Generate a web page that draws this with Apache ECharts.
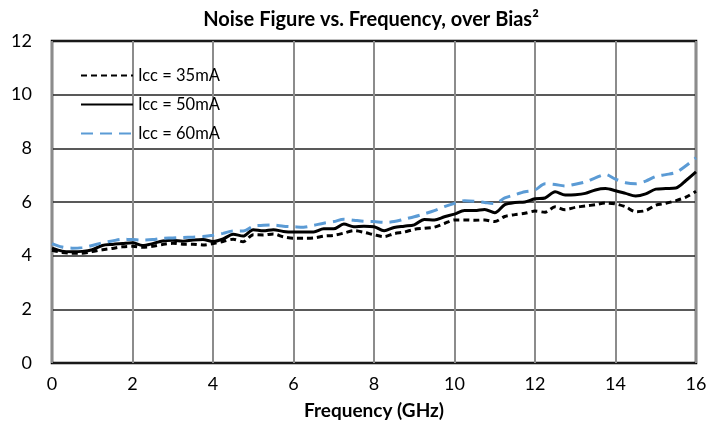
<!DOCTYPE html>
<html>
<head>
<meta charset="utf-8">
<script src="https://cdn.jsdelivr.net/npm/echarts@6/dist/echarts.min.js"></script>
<style>html,body{margin:0;padding:0;background:#fff}#c{width:725px;height:424px}</style>
</head>
<body>
<div id="c"></div>
<script>
const freq = [0,0.25,0.5,0.75,1,1.25,1.5,1.75,2,2.25,2.5,2.75,3,3.25,3.5,3.75,4,4.25,4.5,4.75,5,5.25,5.5,5.75,6,6.25,6.5,6.75,7,7.25,7.5,7.75,8,8.25,8.5,8.75,9,9.25,9.5,9.75,10,10.25,10.5,10.75,11,11.25,11.5,11.75,12,12.25,12.5,12.75,13,13.25,13.5,13.75,14,14.25,14.5,14.75,15,15.25,15.5,15.75,16];
const nf35 = [4.2,4.12,4.09,4.09,4.15,4.22,4.27,4.33,4.35,4.31,4.35,4.42,4.46,4.43,4.43,4.4,4.45,4.53,4.61,4.52,4.78,4.77,4.81,4.7,4.65,4.65,4.66,4.73,4.76,4.84,4.93,4.87,4.78,4.71,4.82,4.88,4.98,5.02,5.06,5.2,5.33,5.33,5.32,5.33,5.27,5.46,5.53,5.58,5.66,5.62,5.82,5.71,5.8,5.85,5.9,5.96,5.93,5.82,5.64,5.68,5.88,5.95,6.05,6.18,6.4];
const nf50 = [4.28,4.17,4.15,4.16,4.22,4.38,4.42,4.45,4.48,4.38,4.45,4.55,4.57,4.54,4.58,4.6,4.53,4.62,4.8,4.73,4.97,4.93,4.97,4.9,4.88,4.88,4.88,5.0,5.0,5.18,5.08,5.1,5.08,4.93,5.05,5.1,5.15,5.35,5.33,5.45,5.55,5.68,5.68,5.72,5.6,5.9,5.98,6.0,6.12,6.15,6.38,6.26,6.27,6.32,6.45,6.5,6.42,6.32,6.22,6.3,6.48,6.5,6.52,6.8,7.12];
const nf60 = [4.45,4.32,4.28,4.3,4.38,4.48,4.55,4.61,4.6,4.58,4.6,4.65,4.66,4.68,4.69,4.71,4.76,4.83,4.92,4.92,5.1,5.13,5.14,5.1,5.08,5.06,5.13,5.21,5.27,5.36,5.32,5.28,5.27,5.24,5.27,5.36,5.45,5.56,5.68,5.83,5.95,6.05,6.03,5.98,5.94,6.15,6.27,6.38,6.45,6.68,6.65,6.6,6.66,6.75,6.9,7.03,6.85,6.72,6.68,6.78,6.95,7.02,7.1,7.35,7.65];
const seriesNames = ['Icc = 35mA','Icc = 50mA','Icc = 60mA'];
const titleText = 'Noise Figure vs. Frequency, over Bias²';
const xName = 'Frequency (GHz)';

const pair = arr => freq.map((f,i)=>[f,arr[i]]);
const FONT = 'Lato';
const chart = echarts.init(document.getElementById('c'), null, {renderer:'canvas'});
chart.setOption({
  animation:false,
  backgroundColor:'#fff',
  title:{text:titleText,left:366,top:5,textAlign:'center',
    textStyle:{fontFamily:FONT,fontWeight:'bold',fontSize:20,color:'#000'}},
  grid:{left:52,right:29,top:41,bottom:61,show:true,borderColor:'#000',borderWidth:2.5,
    backgroundColor:'transparent',containLabel:false,outerBoundsMode:'none'},
  legend:{orient:'vertical',left:75,top:62,itemWidth:52,itemHeight:14,itemGap:12,
    itemStyle:{opacity:0},
    textStyle:{fontFamily:FONT,fontSize:16.5,color:'#000'},
    data:seriesNames},
  xAxis:{type:'value',min:0,max:16,interval:2,name:xName,nameLocation:'middle',nameGap:38,
    nameTextStyle:{fontFamily:FONT,fontWeight:'bold',fontSize:19,color:'#000'},
    axisLine:{show:false},axisTick:{show:false},
    axisLabel:{fontFamily:FONT,fontSize:18,color:'#000',margin:12},
    splitLine:{show:true,lineStyle:{color:'#8c8c8c',width:2}}},
  yAxis:{type:'value',min:0,max:12,interval:2,
    axisLine:{show:false},axisTick:{show:false},
    axisLabel:{fontFamily:FONT,fontSize:18,color:'#000',margin:20},
    splitLine:{show:true,lineStyle:{color:'#222',width:1.5}}},
  series:[
    {name:seriesNames[0],type:'line',data:pair(nf35),symbol:'none',smooth:0.3,
      lineStyle:{color:'#000',width:3,type:[6,4]},itemStyle:{color:'#000'}},
    {name:seriesNames[1],type:'line',data:pair(nf50),symbol:'none',smooth:0.3,
      lineStyle:{color:'#000',width:3,type:'solid'},itemStyle:{color:'#000'}},
    {name:seriesNames[2],type:'line',data:pair(nf60),symbol:'none',smooth:0.3,
      lineStyle:{color:'#5B9BD5',width:3,type:[12,7]},itemStyle:{color:'#5B9BD5'}}
  ]
});
</script>
</body>
</html>
